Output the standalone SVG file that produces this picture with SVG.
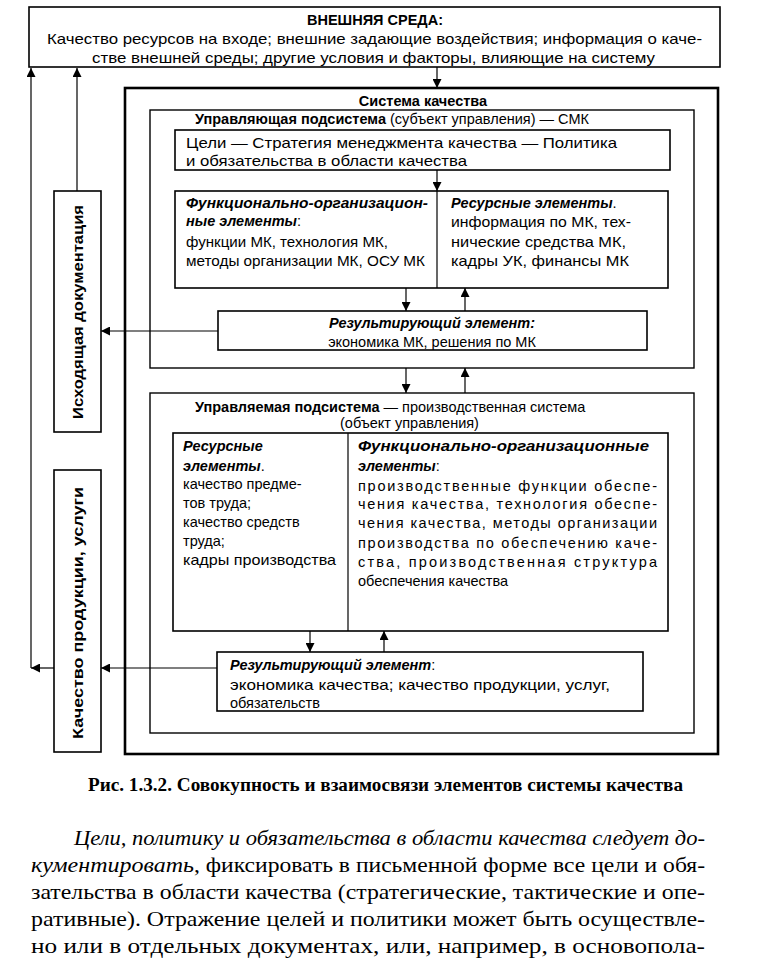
<svg xmlns="http://www.w3.org/2000/svg" width="772" height="959" viewBox="0 0 772 959">
<defs>
<marker id="ah" viewBox="0 0 10 10" refX="10" refY="5" markerWidth="9" markerHeight="9" markerUnits="userSpaceOnUse" orient="auto-start-reverse">
<path d="M0,0 L10,5 L0,10 z" fill="#000"/>
</marker>
<style>
.bx{fill:#fff;stroke:#000;stroke-width:1.6}
.bxt{fill:none;stroke:#000;stroke-width:2.6}
.bxm{fill:none;stroke:#000;stroke-width:1.4}
.ln{stroke:#000;stroke-width:1.2;fill:none}
.ar{stroke:#000;stroke-width:1.2;fill:none;marker-end:url(#ah)}
.da{stroke:#000;stroke-width:1.2;fill:none;marker-end:url(#ah);marker-start:url(#ah)}
.t{font-family:"Liberation Sans",Arial,sans-serif;font-size:14.5px;fill:#000}
.b{font-weight:bold}
.bi{font-weight:bold;font-style:italic}
.c{text-anchor:middle}
.cap{font-family:"Liberation Serif","Times New Roman",serif;font-size:18px;font-weight:bold;fill:#000}
.p{font-family:"Liberation Serif","Times New Roman",serif;font-size:22px;fill:#000}
.i{font-style:italic}
</style>
</defs>

<g id="connectors">
<line class="ar" x1="437" y1="67" x2="437" y2="88"/>
<line class="ar" x1="55" y1="668" x2="31" y2="668"/>
<line class="ar" x1="31" y1="668" x2="31" y2="68"/>
<line class="ar" x1="77" y1="191" x2="77" y2="68"/>
<line class="ar" x1="218" y1="331" x2="101" y2="331"/>
<line class="ar" x1="217" y1="668" x2="101" y2="668"/>
<line class="ar" x1="437" y1="170" x2="437" y2="191"/>
<line class="da" x1="366" y1="279" x2="511" y2="279"/>
<line class="ar" x1="406" y1="288" x2="406" y2="311"/>
<line class="ar" x1="465" y1="311" x2="465" y2="288"/>
<line class="ar" x1="406" y1="368" x2="406" y2="393"/>
<line class="ar" x1="465" y1="393" x2="465" y2="368"/>
<line class="da" x1="316" y1="612" x2="381" y2="612"/>
<line class="ar" x1="310" y1="631" x2="310" y2="652"/>
<line class="ar" x1="384" y1="652" x2="384" y2="631"/>
</g>

<g id="external">
<rect class="bx" x="29" y="7" width="691" height="60"/>
<text class="t b c" x="375" y="25">ВНЕШНЯЯ СРЕДА:</text>
<text class="t" x="47" y="44" textLength="655" lengthAdjust="spacingAndGlyphs">Качество ресурсов на входе; внешние задающие воздействия; информация о каче-</text>
<text class="t" x="92" y="63" textLength="563" lengthAdjust="spacingAndGlyphs">стве внешней среды; другие условия и факторы, влияющие на систему</text>
</g>

<g id="docs">
<rect class="bx" x="54" y="191" width="47" height="241"/>
<text class="t b c" transform="translate(83,312) rotate(-90)" textLength="214" lengthAdjust="spacingAndGlyphs">Исходящая документация</text>
</g>

<g id="product">
<rect class="bx" x="54" y="470" width="47" height="282"/>
<text class="t b c" transform="translate(83,613) rotate(-90)" textLength="252" lengthAdjust="spacingAndGlyphs">Качество продукции, услуги</text>
</g>

<g id="system">
<rect class="bxt" x="125" y="88" width="593" height="666"/>
<text class="t b c" x="423" y="106">Система качества</text>
</g>

<g id="managing">
<rect class="bxm" x="150" y="110" width="544" height="258"/>
<text class="t" x="195" y="124"><tspan class="b">Управляющая подсистема</tspan> (субъект управления) — СМК</text>
</g>

<g id="goals">
<rect class="bx" x="175" y="130" width="495" height="40"/>
<text class="t" x="186" y="148" textLength="431" lengthAdjust="spacingAndGlyphs">Цели — Стратегия менеджмента качества — Политика</text>
<text class="t" x="186" y="166" textLength="281" lengthAdjust="spacingAndGlyphs">и обязательства в области качества</text>
</g>

<g id="mgmt-elements">
<rect class="bx" x="175" y="191" width="493" height="97"/>
<line class="ln" x1="437" y1="191" x2="437" y2="288"/>
<text class="t bi" x="186" y="208" textLength="242" lengthAdjust="spacingAndGlyphs">Функционально-организацион-</text>
<text class="t" x="186" y="226"><tspan class="bi">ные элементы</tspan>:</text>
<text class="t" x="186" y="247" textLength="202" lengthAdjust="spacingAndGlyphs">функции МК, технология МК,</text>
<text class="t" x="186" y="266" textLength="239" lengthAdjust="spacingAndGlyphs">методы организации МК, ОСУ МК</text>
<text class="t" x="451" y="208"><tspan class="bi">Ресурсные элементы</tspan>.</text>
<text class="t" x="451" y="227" textLength="180" lengthAdjust="spacingAndGlyphs">информация по МК, тех-</text>
<text class="t" x="451" y="247" textLength="175" lengthAdjust="spacingAndGlyphs">нические средства МК,</text>
<text class="t" x="451" y="266" textLength="178" lengthAdjust="spacingAndGlyphs">кадры УК, финансы МК</text>
</g>

<g id="mgmt-result">
<rect class="bx" x="218" y="311" width="429" height="39"/>
<text class="t bi c" x="432" y="328">Результирующий элемент:</text>
<text class="t c" x="432" y="347">экономика МК, решения по МК</text>
</g>

<g id="managed">
<rect class="bxm" x="150" y="393" width="544" height="340"/>
<text class="t" x="195" y="412"><tspan class="b">Управляемая подсистема</tspan> — производственная система</text>
<text class="t" x="340" y="428">(объект управления)</text>
</g>

<g id="prod-elements">
<rect class="bx" x="173" y="433" width="495" height="198"/>
<line class="ln" x1="348" y1="433" x2="348" y2="631"/>
<text class="t bi" x="183" y="451">Ресурсные</text>
<text class="t" x="183" y="471"><tspan class="bi">элементы</tspan>.</text>
<text class="t" x="183" y="489">качество предме-</text>
<text class="t" x="183" y="508">тов труда;</text>
<text class="t" x="183" y="527">качество средств</text>
<text class="t" x="183" y="546">труда;</text>
<text class="t" x="183" y="565" textLength="153" lengthAdjust="spacingAndGlyphs">кадры производства</text>
<text class="t bi" x="358" y="451" textLength="291" lengthAdjust="spacingAndGlyphs">Функционально-организационные</text>
<text class="t" x="358" y="471"><tspan class="bi">элементы</tspan>:</text>
<text class="t" x="358" y="491" textLength="299" lengthAdjust="spacing">производственные функции обеспе-</text>
<text class="t" x="358" y="509" textLength="299" lengthAdjust="spacing">чения качества, технология обеспе-</text>
<text class="t" x="358" y="528" textLength="299" lengthAdjust="spacing">чения качества, методы организации</text>
<text class="t" x="358" y="548" textLength="299" lengthAdjust="spacing">производства по обеспечению каче-</text>
<text class="t" x="358" y="567" textLength="299" lengthAdjust="spacing">ства, производственная структура</text>
<text class="t" x="358" y="586">обеспечения качества</text>
</g>

<g id="prod-result">
<rect class="bx" x="217" y="652" width="426" height="59"/>
<text class="t" x="230" y="670"><tspan class="bi">Результирующий элемент</tspan>:</text>
<text class="t" x="230" y="690" textLength="380" lengthAdjust="spacingAndGlyphs">экономика качества; качество продукции, услуг,</text>
<text class="t" x="230" y="708">обязательств</text>
</g>

<text class="cap" x="88" y="791" textLength="595" lengthAdjust="spacingAndGlyphs">Рис. 1.3.2. Совокупность и взаимосвязи элементов системы качества</text>

<text class="p i" x="74" y="845" textLength="631" lengthAdjust="spacingAndGlyphs">Цели, политику и обязательства в области качества следует до-</text>
<text class="p i" x="31" y="872" textLength="163" lengthAdjust="spacingAndGlyphs">кументировать</text>
<text class="p" x="194" y="872" textLength="511" lengthAdjust="spacingAndGlyphs">, фиксировать в письменной форме все цели и обя-</text>
<text class="p" x="31" y="899" textLength="674" lengthAdjust="spacingAndGlyphs">зательства в области качества (стратегические, тактические и опе-</text>
<text class="p" x="31" y="926" textLength="674" lengthAdjust="spacingAndGlyphs">ративные). Отражение целей и политики может быть осуществле-</text>
<text class="p" x="31" y="953" textLength="674" lengthAdjust="spacingAndGlyphs">но или в отдельных документах, или, например, в основопола-</text>
</svg>
